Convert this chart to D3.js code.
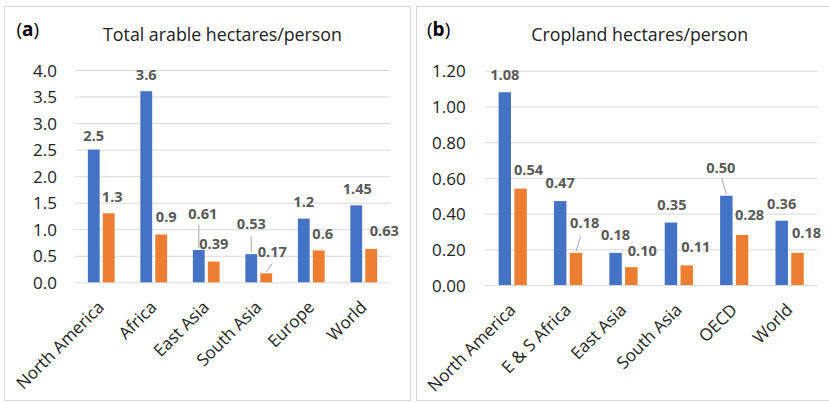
<!DOCTYPE html>
<html>
<head>
<meta charset="utf-8">
<script src="https://cdn.jsdelivr.net/npm/d3@7"></script>
<style>
  html, body { margin: 0; padding: 0; background: #fff; }
  svg { display: block; font-family: "Open Sans", sans-serif; }
</style>
</head>
<body>
<svg id="chart" width="829" height="402"></svg>
<script>
// ---- data ----
const arableCategories = ["North America", "Africa", "East Asia", "South Asia", "Europe", "World"];
const arableBlue = [2.5, 3.6, 0.61, 0.53, 1.2, 1.45];
const arableOrange = [1.3, 0.9, 0.39, 0.17, 0.6, 0.63];
const arableTicks = [0, 0.5, 1.0, 1.5, 2.0, 2.5, 3.0, 3.5, 4.0];

const croplandCategories = ["North America", "E & S Africa", "East Asia", "South Asia", "OECD", "World"];
const croplandBlue = [1.08, 0.47, 0.18, 0.35, 0.50, 0.36];
const croplandOrange = [0.54, 0.18, 0.10, 0.11, 0.28, 0.18];
const croplandTicks = [0, 0.2, 0.4, 0.6, 0.8, 1.0, 1.2];

// ---- styling ----
const COLORS = ["#4472C4", "#ED7D31"];
const GRID = "#d9d9d9";

// Data-label nudges: [dx, extra rise, leader start [dx, dy] relative to label or null]
const arableNudges = [
  [[0, -3, null], [0, -1, null], [4, 19, [-4, 11]], [0, 13, [0, 12]], [0, 0, null], [1, 0, null]],
  [[3.5, 0, null], [5, 1, null], [0, 1, null], [6, 4.6, [0, 12]], [4, 0, null], [13, 1, null]]
];
const croplandNudges = [
  [[0, 0, null], [0, 1.4, null], [0, 1, null], [1, 0.5, null], [-5.6, 11.5, [1, 10.7]], [0, 0.4, null]],
  [[8, 2.3, null], [8.7, 13.6, [-4, 14]], [11, -0.8, null], [9, 1.7, null], [7.5, 3, null], [9, 3.2, null]]
];

const svg = d3.select("#chart");
svg.append("rect").attr("width", 829).attr("height", 402).attr("fill", "#fff");

function drawPanel(cfg) {
  const g = svg.append("g");

  // panel frame
  g.append("rect")
    .attr("x", cfg.frame[0]).attr("y", cfg.frame[1])
    .attr("width", cfg.frame[2]).attr("height", cfg.frame[3])
    .attr("fill", "none").attr("stroke", GRID).attr("stroke-width", 1);

  // panel letter and title
  const tag = g.append("text")
    .attr("x", cfg.tagX).attr("y", 36)
    .attr("font-size", 19).attr("fill", "#000");
  tag.append("tspan").text("(");
  tag.append("tspan").attr("font-weight", "bold").text(cfg.tag);
  tag.append("tspan").text(")");

  g.append("text")
    .attr("x", cfg.titleX).attr("y", 40.5)
    .attr("text-anchor", "middle")
    .attr("font-size", 17.8).attr("fill", "#222")
    .text(cfg.title);

  const [left, right, top, bottom] = cfg.plot;
  const x0 = d3.scaleBand().domain(cfg.categories).range([left, right]).padding(0);
  const x1 = d3.scaleBand().domain([0, 1]).range([0, x0.bandwidth()])
    .paddingInner(0.2105).paddingOuter(0.86);
  const y = d3.scaleLinear().domain([0, d3.max(cfg.ticks)]).range([bottom, top]);

  // y axis with gridlines
  const axis = d3.axisLeft(y)
    .tickValues(cfg.ticks)
    .tickFormat(cfg.tickFormat)
    .tickSize(-(right - left))
    .tickPadding(cfg.tickPad);
  const ag = g.append("g").attr("transform", `translate(${left},0)`).call(axis);
  ag.select(".domain").remove();
  ag.selectAll(".tick line").attr("stroke", GRID).attr("stroke-width", 1);
  ag.selectAll(".tick text")
    .attr("font-family", "Open Sans, sans-serif")
    .attr("font-size", 17)
    .attr("fill", "#222")
    .attr("dy", "0.36em");
  ag.attr("font-family", null).attr("font-size", null);

  // bars
  const series = [cfg.blue, cfg.orange];
  series.forEach((vals, s) => {
    g.append("g").selectAll("rect")
      .data(vals)
      .join("rect")
      .attr("x", (d, i) => x0(cfg.categories[i]) + x1(s))
      .attr("y", d => y(d))
      .attr("width", x1.bandwidth())
      .attr("height", d => y(0) - y(d))
      .attr("fill", COLORS[s]);
  });

  // data labels and leader lines
  series.forEach((vals, s) => {
    vals.forEach((v, i) => {
      const n = cfg.nudges[s][i];
      const cx = x0(cfg.categories[i]) + x1(s) + x1.bandwidth() / 2;
      const topY = y(v);
      const lx = cx + n[0];
      const ly = topY - 17 - n[1];
      if (n[2]) {
        g.append("line")
          .attr("x1", lx + n[2][0]).attr("y1", ly + n[2][1])
          .attr("x2", cx).attr("y2", topY - 1.5)
          .attr("stroke", "#a6a6a6").attr("stroke-width", 1);
      }
      g.append("text")
        .attr("x", lx).attr("y", ly)
        .attr("dy", "0.36em")
        .attr("text-anchor", "middle")
        .attr("font-size", 14.6).attr("font-weight", "bold")
        .attr("fill", "#595959")
        .text(cfg.labelFormat(v));
    });
  });

  // category labels
  g.append("g").selectAll("text")
    .data(cfg.categories)
    .join("text")
    .attr("transform", d => `translate(${x0(d) + x0.bandwidth() / 2 + 4},${bottom + 26}) rotate(-45)`)
    .attr("text-anchor", "end")
    .attr("font-size", 17)
    .attr("fill", "#222")
    .text(d => d);
}

drawPanel({
  frame: [4.5, 6.5, 406, 394],
  tag: "a", tagX: 16.5, title: "Total arable hectares/person", titleX: 222.5,
  plot: [75, 390, 70, 282.3],
  categories: arableCategories, blue: arableBlue, orange: arableOrange,
  ticks: arableTicks, tickFormat: d3.format(".1f"), tickPad: 18,
  labelFormat: d => String(d),
  nudges: arableNudges
});

drawPanel({
  frame: [416.5, 6.5, 420, 394],
  tag: "b", tagX: 427, title: "Cropland hectares/person", titleX: 639.7,
  plot: [485, 817.3, 70.8, 285],
  categories: croplandCategories, blue: croplandBlue, orange: croplandOrange,
  ticks: croplandTicks, tickFormat: d3.format(".2f"), tickPad: 19.3,
  labelFormat: d3.format(".2f"),
  nudges: croplandNudges
});
</script>
</body>
</html>
